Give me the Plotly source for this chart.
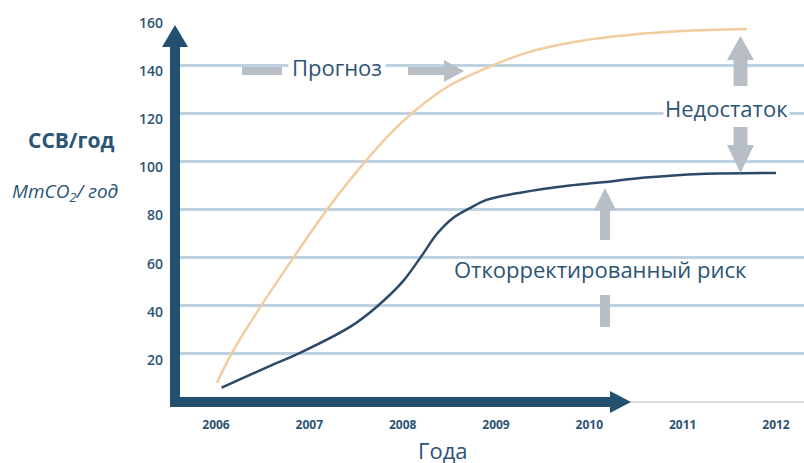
import plotly.graph_objects as go

# ---- data ----
years_forecast = [2006.01, 2006.18, 2006.5, 2006.83, 2007.19, 2007.6, 2007.97, 2008.48,
                  2008.97, 2009.36, 2009.9, 2010.5, 2011.0, 2011.69]
values_forecast = [8, 21, 41, 60, 80, 100, 115.5, 131, 140, 145.5, 150, 152.8, 154.2, 155]

years_adjusted = [2006.06, 2006.55, 2006.9, 2007.44, 2007.72, 2008.0, 2008.19, 2008.37, 2008.54,
                  2008.72, 2008.9, 2009.26, 2009.79, 2010.11, 2010.6, 2011.19, 2012.0]
values_adjusted = [6, 14.5, 20.4, 31.3, 39.5, 50, 60, 70, 76.5, 80.6, 84, 87, 90, 91.2, 93.3, 94.8, 95.2]

x_ticks = [2006, 2007, 2008, 2009, 2010, 2011, 2012]
x_labels = ["2006", "2007", "2008", "2009", "2010", "2011", "2012"]
y_ticks = [20, 40, 60, 80, 100, 120, 140, 160]
y_labels = ["20", "40", "60", "80", "100", "120", "140", "160"]

# ---- style ----
W, H = 804, 463
L, R, T, B = 175, 804, 17, 402
TEXT = "#2c5475"
AXIS = "#24506f"
GRAY = "#b8bec5"
GRID = "#bfd2e1"
ORANGE = "#f2cc9f"
DARK = "#2b4a67"
FONT = "Open Sans"

def px(xp):
    return (xp - L) / (R - L)

def py(yp):
    return (B - yp) / (B - T)

fig = go.Figure()
fig.add_trace(go.Scatter(x=years_forecast, y=values_forecast, mode="lines",
                         line=dict(color=ORANGE, width=2.5, shape="spline", smoothing=0.9),
                         hoverinfo="skip", showlegend=False))
fig.add_trace(go.Scatter(x=years_adjusted, y=values_adjusted, mode="lines",
                         line=dict(color=DARK, width=2.5, shape="spline", smoothing=0.9),
                         hoverinfo="skip", showlegend=False))

shapes = []

def bar(x0, y0, x1, y1, w, color=GRAY):
    shapes.append(dict(type="line", xref="paper", yref="paper",
                       x0=px(x0), y0=py(y0), x1=px(x1), y1=py(y1),
                       line=dict(color=color, width=w), layer="above"))

def tri(points, color=GRAY):
    path = "M " + " L ".join(f"{px(a):.5f},{py(b):.5f}" for a, b in points) + " Z"
    shapes.append(dict(type="path", xref="paper", yref="paper", path=path,
                       fillcolor=color, line=dict(width=0), layer="above"))

# axis arrows
bar(175, 407, 175, 46, 10, AXIS)
tri([(162, 47), (188, 47), (175, 25)], AXIS)
shapes.append(dict(type="line", xref="paper", yref="paper", x0=px(630), y0=py(402),
                   x1=px(804), y1=py(402), line=dict(color="#cfcfcf", width=1.5), layer="above"))
bar(170, 402, 612, 402, 10, AXIS)
tri([(610, 391), (610, 413), (631, 402)], AXIS)

# "Прогноз" arrows
bar(242, 71, 282, 71, 8)
bar(408, 71, 446, 71, 8)
tri([(444, 60), (444, 82), (464, 71)])
# "Недостаток" arrows
bar(740.5, 86, 740.5, 58, 14)
tri([(727, 60), (754, 60), (740.5, 36)])
bar(740.5, 127, 740.5, 147, 14)
tri([(727, 145), (754, 145), (740.5, 173)])
# adjusted risk arrows
bar(605, 240, 605, 208, 10)
tri([(594, 210), (616, 210), (605, 188)])
bar(605, 295, 605, 327, 10)

def note(text, x, y, size, bg=None, pad=1):
    d = dict(text=text, xref="paper", yref="paper", x=px(x), y=py(y), showarrow=False,
             xanchor="center", yanchor="middle",
             font=dict(family=FONT, size=size, color=TEXT), borderpad=pad)
    if bg:
        d["bgcolor"] = bg
    return d

annotations = [
    note("Прогноз", 337, 67, 22, "white", 3),
    note("Недостаток", 726, 108, 22, "white", 1),
    note("Откорректированный риск", 600, 269, 22),
    note("Года", 443, 450, 22),
    note("<b>ССВ/год</b>", 72, 140, 21),
    note("<i>MmCO<sub>2</sub>/ год</i>", 65, 192, 19),
]

fig.update_layout(
    width=W, height=H,
    margin=dict(l=L, r=W - R, t=T, b=H - B),
    paper_bgcolor="white", plot_bgcolor="white",
    shapes=shapes, annotations=annotations,
    xaxis=dict(range=[2006 - (216 - L) / 93.33, 2012 + (R - 776) / 93.33], automargin=False,
               tickvals=x_ticks, ticktext=x_labels, showgrid=False, zeroline=False,
               showline=False, ticks="", ticklabelstandoff=14,
               tickfont=dict(family=FONT, size=12, color=TEXT, weight="bold")),
    yaxis=dict(range=[0, 160], tickvals=y_ticks, ticktext=y_labels, showgrid=True, automargin=False,
               gridcolor=GRID, gridwidth=2.5, zeroline=False, showline=False, ticks="",
               ticklabelstandoff=11, ticklabelshift=6,
               tickfont=dict(family=FONT, size=14, color=TEXT, weight=600)),
)

fig.write_html("out.html", config={"displayModeBar": False},
               post_script="document.body.style.margin='0';")
